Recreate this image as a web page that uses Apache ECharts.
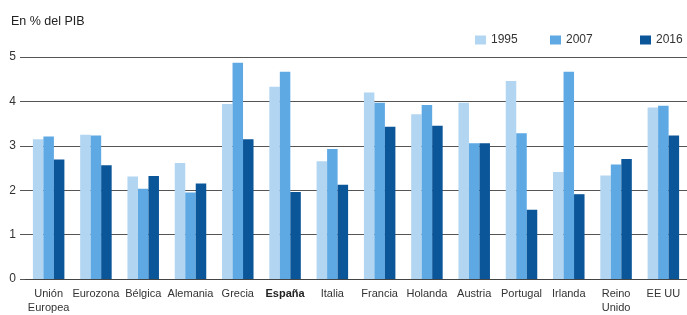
<!DOCTYPE html>
<html>
<head>
<meta charset="utf-8">
<script src="https://cdn.jsdelivr.net/npm/echarts@6/dist/echarts.min.js"></script>
<style>html,body{margin:0;padding:0;background:#fff}#c{width:687px;height:315px}</style>
</head>
<body>
<div id="c"></div>
<script>
const categories = ['Unión\nEuropea','Eurozona','Bélgica','Alemania','Grecia','España','Italia','Francia','Holanda','Austria','Portugal','Irlanda','Reino\nUnido','EE UU'];
const seriesNames = ['1995','2007','2016'];
const v1995 = [3.15,3.25,2.31,2.61,3.94,4.33,2.65,4.20,3.71,3.97,4.46,2.41,2.33,3.86];
const v2007 = [3.21,3.23,2.03,1.95,4.87,4.67,2.93,3.97,3.92,3.06,3.28,4.67,2.58,3.90];
const v2016 = [2.69,2.56,2.32,2.15,3.15,1.96,2.12,3.43,3.45,3.06,1.56,1.91,2.70,3.23];
const yTicks = [0,1,2,3,4,5];
const colors = ['#b2d5f1','#5ea8e4','#0b5699'];

const chart = echarts.init(document.getElementById('c'), null, {renderer:'canvas'});
const font = 'Liberation Sans, Arial, sans-serif';
const legendLefts = [470, 545, 635];
chart.setOption({
  animation:false,
  textStyle:{fontFamily:font},
  title:{text:'En % del PIB', left:6, top:10, textStyle:{fontSize:12.5, fontWeight:'normal', color:'#222', fontFamily:font}},
  legend: seriesNames.map((n,i)=>({left:legendLefts[i], top:29, itemWidth:11, itemHeight:9, icon:'rect',
    textStyle:{fontSize:12, color:'#333', fontFamily:font}, data:[n]})),
  grid:{left:25, right:0, top:57, bottom:36, containLabel:false},
  xAxis:{type:'category', data:categories,
    axisLine:{show:true, lineStyle:{color:'#444', width:1}},
    axisTick:{show:false},
    axisLabel:{interval:0, fontSize:11, color:'#333', margin:8, lineHeight:14, fontFamily:font,
      formatter:function(v){ return v==='España' ? '{b|'+v+'}' : v; },
      rich:{b:{fontWeight:'bold', fontSize:11, color:'#222', fontFamily:font}}}
  },
  yAxis:{type:'value', min:yTicks[0], max:yTicks[yTicks.length-1], interval:1,
    axisLine:{show:false},
    axisTick:{show:true, length:5, lineStyle:{color:'#555'}},
    axisLabel:{fontSize:12, color:'#333', margin:9, fontFamily:font},
    splitLine:{show:true, lineStyle:{color:'#555', width:1}}
  },
  series:[
    {name:seriesNames[0], type:'bar', data:v1995, barWidth:10.5, barGap:'0%', itemStyle:{color:colors[0]}},
    {name:seriesNames[1], type:'bar', data:v2007, barWidth:10.5, barGap:'0%', itemStyle:{color:colors[1]}},
    {name:seriesNames[2], type:'bar', data:v2016, barWidth:10.5, barGap:'0%', itemStyle:{color:colors[2]}}
  ]
});
</script>
</body>
</html>
